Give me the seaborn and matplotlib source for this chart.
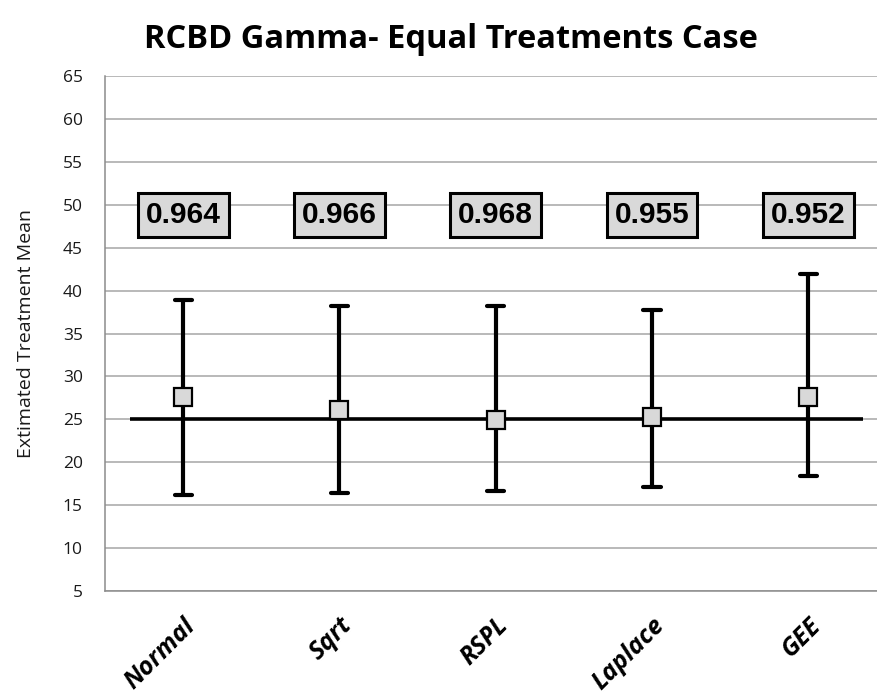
import matplotlib
matplotlib.use("Agg")
import matplotlib.pyplot as plt
import seaborn as sns
import pandas as pd

methods = ["Normal", "Sqrt", "RSPL", "Laplace", "GEE"]
est_mean = [27.6, 26.1, 24.9, 25.3, 27.6]
ci_lower = [16.2, 16.4, 16.6, 17.1, 18.4]
ci_upper = [38.9, 38.2, 38.2, 37.7, 41.9]
coverage = ["0.964", "0.966", "0.968", "0.955", "0.952"]
true_value = 25
y_ticks = list(range(5, 70, 5))

rows = []
for m, lo, mu, hi in zip(methods, ci_lower, est_mean, ci_upper):
    for v in (lo, mu, hi):
        rows.append({"method": m, "value": v})
df = pd.DataFrame(rows)

sns.set_theme(style="white")
plt.rcParams["font.family"] = ["Open Sans", "DejaVu Sans"]
plt.rcParams["text.color"] = "black"
plt.rcParams["axes.labelcolor"] = "#1a1a1a"

fig = plt.figure(figsize=(8.77, 7.0), dpi=100)
ax = fig.add_axes([105 / 877, 1 - 591 / 700, 1 - 105 / 877, (591 - 76) / 700])

ax.set_ylim(5, 65)
ax.set_yticks(y_ticks)
ax.yaxis.grid(True, color="#a6a6a6", linewidth=1.1)
ax.set_axisbelow(True)

ax.hlines(true_value, -0.34, 4.35, color="black", linewidth=2.6, zorder=3)

sns.pointplot(
    data=df, x="method", y="value", order=methods,
    estimator="median", errorbar=lambda x: (min(x), max(x)),
    linestyle="none", marker="s", markersize=13.5, markeredgewidth=1.6,
    markeredgecolor="black", color="#d9d9d9",
    capsize=0.11, err_kws={"color": "black", "linewidth": 3.0},
    ax=ax,
)
for ln in ax.lines:
    if ln.get_marker() == "s":
        ln.set_zorder(7)
    else:
        ln.set_zorder(2.5)

ax.set_xlim(-0.5, 4.44)

for i, lab in enumerate(coverage):
    ax.text(i, 48.8, lab, ha="center", va="center", fontsize=21.5,
            fontweight="heavy", family="Liberation Sans", color="black",
            zorder=6,
            bbox=dict(boxstyle="square,pad=0.27", facecolor="#d9d9d9",
                      edgecolor="black", linewidth=2.2))

for s in ["top", "right"]:
    ax.spines[s].set_visible(False)
for s in ["left", "bottom"]:
    ax.spines[s].set_color("#8c8c8c")
    ax.spines[s].set_linewidth(1.1)

ax.tick_params(axis="y", length=0, pad=16, labelsize=12.5, labelcolor="#1a1a1a")
ax.tick_params(axis="x", length=0, pad=16, labelcolor="black")
ax.set_xticks(range(len(methods)))
ax.set_xticklabels(methods, rotation=45, ha="right", rotation_mode="anchor",
                   fontsize=18, fontweight="bold", fontstyle="italic",
                   family="Open Sans")
ax.set_xlabel("")
ax.set_ylabel("Extimated Treatment Mean", fontsize=14, labelpad=20)

fig.text(451 / 877, 1 - 40 / 700, "RCBD Gamma- Equal Treatments Case",
         ha="center", va="center", fontsize=23.5, fontweight="bold",
         family="Open Sans", color="black")

fig.savefig("out.png", dpi=100)
